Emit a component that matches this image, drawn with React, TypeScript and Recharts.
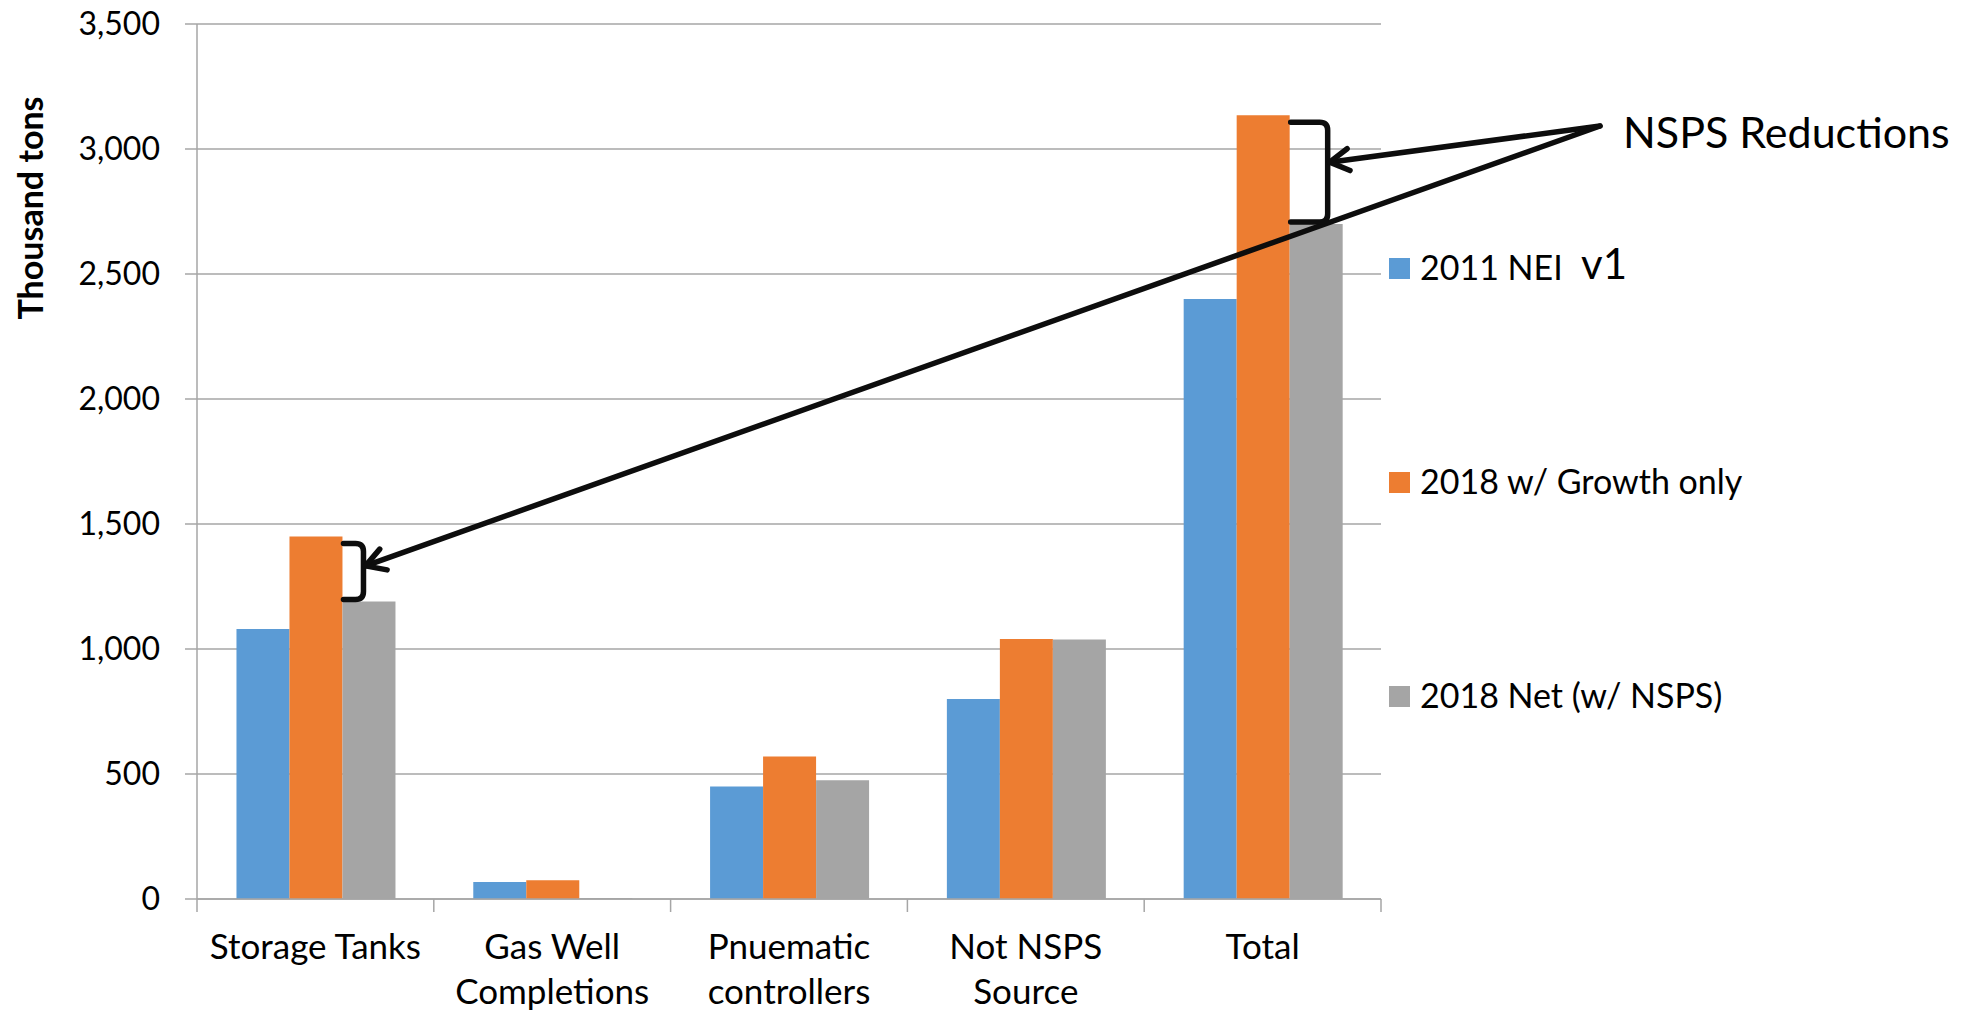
import React from 'react';
import { BarChart, Bar, XAxis, YAxis, CartesianGrid, LabelList } from 'recharts';

const categories = ['Storage Tanks', 'Gas Well Completions', 'Pnuematic controllers', 'Not NSPS Source', 'Total'];
const categoryLines = [['Storage Tanks'], ['Gas Well', 'Completions'], ['Pnuematic', 'controllers'], ['Not NSPS', 'Source'], ['Total']];
const nei2011 = [1080, 68, 450, 800, 2400];
const growth2018 = [1450, 75, 570, 1040, 3135];
const net2018 = [1190, 4, 475, 1038, 2700];
const yTicks = [0, 500, 1000, 1500, 2000, 2500, 3000, 3500];
const seriesNames = ['2011 NEI', '2018 w/ Growth only', '2018 Net (w/ NSPS)'];
const seriesColors = ['#5b9bd5', '#ed7d31', '#a5a5a5'];

const rows = categories.map((name, i) => ({
  name,
  nei: nei2011[i],
  growth: growth2018[i],
  net: net2018[i],
}));

const FONT = 'Lato, "Open Sans", sans-serif';
const GRID = '#a6a6a6';
const INK = '#0d0d0d';
// where the hand drawn arrows meet, just left of the "NSPS Reductions" note
const ANCHOR = { x: 1600, y: 126 };
// bracket reach (px) for the categories that carry an NSPS note
const BRACKETS: Record<number, number> = { 0: 21, 4: 38 };

function CategoryTick(props: any) {
  const { x, y, payload } = props;
  const half = payload.offset || 118.4;
  const i = categories.indexOf(payload.value);
  const lines = categoryLines[i] || [payload.value];
  return (
    <g>
      <line x1={x - half} x2={x - half} y1={y} y2={y + 13} stroke={GRID} strokeWidth={1.5} />
      {i === categories.length - 1 && (
        <line x1={x + half} x2={x + half} y1={y} y2={y + 13} stroke={GRID} strokeWidth={1.5} />
      )}
      {lines.map((t, k) => (
        <text key={k} x={x} y={y + 60 + k * 45} textAnchor="middle" fontSize={35} fontFamily={FONT} fill="#000">
          {t}
        </text>
      ))}
    </g>
  );
}

function arrowHead(tx: number, ty: number) {
  const a = Math.atan2(ANCHOR.y - ty, ANCHOR.x - tx);
  const len = 22;
  const w = (30 * Math.PI) / 180;
  const p1 = [tx + len * Math.cos(a - w), ty + len * Math.sin(a - w)];
  const p2 = [tx + len * Math.cos(a + w), ty + len * Math.sin(a + w)];
  return `M${p1[0]},${p1[1]} L${tx},${ty} L${p2[0]},${p2[1]}`;
}

function ReductionBracket(props: any) {
  const vb = props.viewBox && props.viewBox.width != null ? props.viewBox : props;
  const x = Number(vb.x);
  const y = Number(vb.y);
  const height = Number(vb.height);
  const value = Number(props.value);
  const i = props.index != null ? props.index : net2018.indexOf(value);
  const reach = BRACKETS[i];
  if (!reach || !value) return null;
  const perUnit = height / value;
  const base = y + height;
  const top = base - growth2018[i] * perUnit + 7;
  const bot = y - 2;
  const vx = x + reach;
  const r = 8;
  const tipX = vx + 2;
  const tipY = top + 0.4 * (bot - top);
  return (
    <g fill="none" stroke={INK} strokeWidth={5.5} strokeLinecap="round" strokeLinejoin="round">
      <path d={`M${x + 1},${top} L${vx - r},${top} Q${vx},${top} ${vx},${top + r} L${vx},${bot - r} Q${vx},${bot} ${vx - r},${bot} L${x + 1},${bot}`} />
      <line x1={ANCHOR.x} y1={ANCHOR.y} x2={tipX} y2={tipY} />
      <path d={arrowHead(tipX, tipY)} />
    </g>
  );
}

export default function App() {
  return (
    <div style={{ position: 'absolute', left: 0, top: 0, width: 1978, height: 1010, background: '#fff' }}>
      <BarChart
        width={1978}
        height={1010}
        data={rows}
        margin={{ top: 24, right: 597, left: 0, bottom: 11 }}
        barCategoryGap="16.67%"
        barGap={0}
      >
        <CartesianGrid vertical={false} stroke={GRID} strokeWidth={1.5} />
        <XAxis
          dataKey="name"
          height={100}
          interval={0}
          tickSize={0}
          tickMargin={0}
          tickLine={false}
          axisLine={{ stroke: GRID, strokeWidth: 1.5 }}
          tick={<CategoryTick />}
        />
        <YAxis
          width={197}
          domain={[0, 3500]}
          ticks={yTicks}
          interval={0}
          tickSize={12}
          tickMargin={25}
          tickLine={{ stroke: GRID, strokeWidth: 1.5 }}
          axisLine={{ stroke: GRID, strokeWidth: 1.5 }}
          tickFormatter={(v: number) => v.toLocaleString('en-US')}
          tick={{ fontSize: 32, fontFamily: FONT, fill: '#000' }}
        />
        <Bar dataKey="nei" name={seriesNames[0]} fill={seriesColors[0]} isAnimationActive={false} />
        <Bar dataKey="growth" name={seriesNames[1]} fill={seriesColors[1]} isAnimationActive={false} />
        <Bar dataKey="net" name={seriesNames[2]} fill={seriesColors[2]} isAnimationActive={false}>
          <LabelList dataKey="net" content={(p: any) => <ReductionBracket {...p} />} />
        </Bar>
      </BarChart>

      <svg width={1978} height={1010} style={{ position: 'absolute', left: 0, top: 0, pointerEvents: 'none' }}>
        <text
          transform="translate(43,208) rotate(-90)"
          textAnchor="middle"
          fontSize={34}
          fontWeight={700}
          fontFamily={FONT}
          fill="#000"
        >
          Thousand tons
        </text>

        {seriesNames.map((s, k) => (
          <g key={s}>
            <rect x={1389} y={258 + k * 214} width={21} height={21} fill={seriesColors[k]} />
            <text x={1420} y={280 + k * 214} fontSize={34} fontFamily={FONT} fill="#000">
              {s}
            </text>
          </g>
        ))}

        <text x={1581} y={279} fontSize={42} fontFamily={FONT} fill="#000">v1</text>
        <text x={1623} y={148} fontSize={43} fontFamily={FONT} fill="#000">NSPS Reductions</text>
      </svg>
    </div>
  );
}
